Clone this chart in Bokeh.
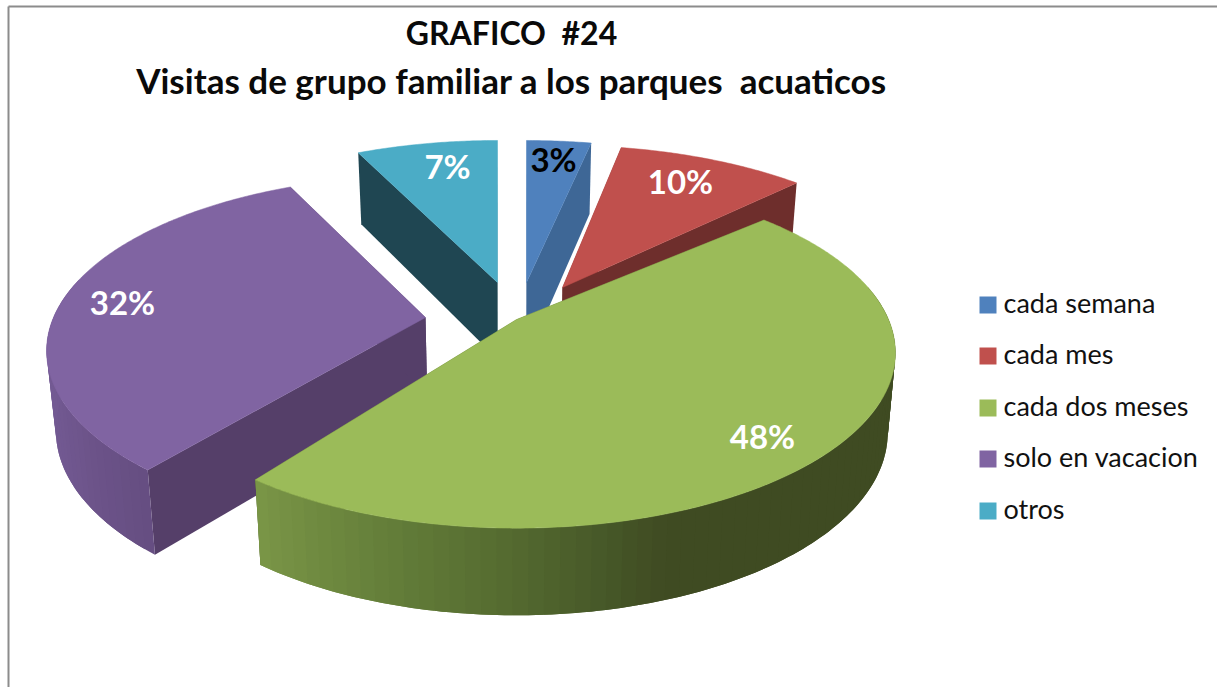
import numpy as np
from bokeh.plotting import figure
from bokeh.models import Range1d
from bokeh.core.properties import value
from bokeh.embed import file_html
from bokeh.resources import INLINE

# ---- data ----
TITLE_LINES = ["GRAFICO \u00a0#24", "Visitas de grupo familiar a los parques \u00a0acuaticos"]
categories = ["cada semana", "cada mes", "cada dos meses", "solo en vacacion", "otros"]
percent = [3, 10, 48, 32, 7]

# ---- styles ----
top_colors = ["#4F81BD", "#C0504D", "#9BBB59", "#8064A2", "#4BACC6"]
cut_colors = ["#3E6796", "#6E2E2C", "#3F4B22", "#553F69", "#1F4652"]
label_colors = ["#000000", "#FFFFFF", "#FFFFFF", "#FFFFFF", "#FFFFFF"]
# slice explosion: where each slice's tip lands on the page
tip_x = [526, 562, 516, 425, 497]
tip_y = [282, 287, 319, 317, 282]
# small corrections (degrees) for the picture's foreshortened slice edges
trim_start = [0.0, 0.0, 1.7, 0.0, -0.8]
trim_end = [1.1, -1.3, -3.1, 0.0, 0.0]
label_x = [553, 680, 762, 122, 447]
label_y = [158, 180, 435, 301, 165]
draw_order = [0, 4, 1, 3, 2]
wall_stops = {
    2: ([254, 330, 420, 520, 610, 680, 900],
        ["#7C9848", "#6F8A40", "#617B38", "#556B30", "#485A29", "#3F4B22", "#3F4B22"]),
    3: ([45, 90, 160],
        ["#735A93", "#6C5389", "#644C7F"]),
}
RX, RY, PERSP = 372.0, 169.0, 0.19
X_MID, SHRINK, Y_GAIN, Y_DROP = 510.0, 0.98, 1.042, 65.0


def hex2rgb(c):
    return np.array([int(c[i:i + 2], 16) for i in (1, 3, 5)], float)


def rim(tx, ty, deg):
    t = np.radians(deg)
    u, v = np.sin(t), -np.cos(t)
    k = 1.0 / (1.0 - PERSP * v)
    return tx + RX * u * k, ty + RY * v * k


def lower(x, y):
    return X_MID + (np.asarray(x) - X_MID) * SHRINK, np.asarray(y) * Y_GAIN + Y_DROP


p = figure(width=1217, height=687, x_range=Range1d(0, 1217), y_range=Range1d(687, 0),
           output_backend="svg", toolbar_location=None, min_border=0,
           background_fill_color="#FFFFFF", border_fill_color="#FFFFFF")
p.margin = (0, 0, 0, 0)
p.xaxis.visible = False
p.yaxis.visible = False
p.grid.visible = False
p.outline_line_color = None

# chart frame
p.segment(x0=[8, 8], y0=[6, 6], x1=[1217, 8], y1=[6, 687], line_color="#8C8C8C", line_width=2)

edges = np.concatenate([[0], np.cumsum(percent)]) * 360.0 / sum(percent)

for i in draw_order:
    a0, a1 = edges[i] + trim_start[i], edges[i + 1] + trim_end[i]
    tx, ty = tip_x[i], tip_y[i]
    # radial cut faces
    for ang in (a0, a1):
        rx, ry = rim(tx, ty, ang)
        bx, by = lower([tx, rx], [ty, ry])
        p.patch([tx, rx, bx[1], bx[0]], [ty, ry, by[1], by[0]],
                fill_color=cut_colors[i], line_color=None)
    # outer wall, split into overlapping strips for the shading
    th = np.arange(a0, a1, 2.0)
    xs, ys, cs = [], [], []
    for t0 in th:
        t1 = min(t0 + 4.0, a1)
        if np.cos(np.radians(t0 + 1.0)) > 0.2:
            continue
        tt = np.linspace(t0, t1, 5)
        x0, y0 = rim(tx, ty, tt)
        bx, by = lower(x0, y0)
        xs.append(np.concatenate([x0, bx[::-1]]))
        ys.append(np.concatenate([y0, by[::-1]]))
        if i in wall_stops:
            st, col = wall_stops[i]
            rgb = np.array([hex2rgb(c) for c in col])
            m = float(np.mean(x0[:3]))
            c = [int(round(np.interp(m, st, rgb[:, k]))) for k in range(3)]
            cs.append("#%02X%02X%02X" % tuple(c))
        else:
            cs.append(cut_colors[i])
    if xs:
        # painted from the far end so each strip's hard edge is covered by the next
        order = list(range(len(xs)))
        if i == 2:
            order = order[::-1]
        p.patches([xs[k] for k in order], [ys[k] for k in order],
                  fill_color=[cs[k] for k in order], line_color=None)
    # top face
    ta = np.linspace(a0, a1, max(3, int(a1 - a0) * 2))
    rx, ry = rim(tx, ty, ta)
    p.patch(np.concatenate([[tx], rx]), np.concatenate([[ty], ry]),
            fill_color=top_colors[i], line_color=top_colors[i], line_width=0.5)

# percentage labels
p.text(x=label_x, y=label_y, text=[f"{v}%" for v in percent], text_color=label_colors,
       text_font=value("Lato"), text_font_style="bold", text_font_size="33px",
       text_align="center", text_baseline="middle")

# legend
LEG_Y = [304.5, 355.5, 407.5, 458.5, 510.5]
p.rect(x=[987.5] * 5, y=LEG_Y, width=17, height=17, fill_color=top_colors, line_color=None)
p.text(x=[1003] * 5, y=[v - 2.5 for v in LEG_Y], text=categories, text_color="#111111",
       text_font=value("Lato"), text_font_size="27px", text_align="left", text_baseline="middle")

# title
p.text(x=[511], y=[32], text=TITLE_LINES[:1], text_color="#0A0A0A",
       text_font=value("Lato"), text_font_style="bold", text_font_size="32px",
       text_align="center", text_baseline="middle")
p.text(x=[511], y=[79], text=TITLE_LINES[1:], text_color="#0A0A0A",
       text_font=value("Lato"), text_font_style="bold", text_font_size="35px",
       text_align="center", text_baseline="middle")

open("out.html", "w").write(file_html(p, INLINE))
